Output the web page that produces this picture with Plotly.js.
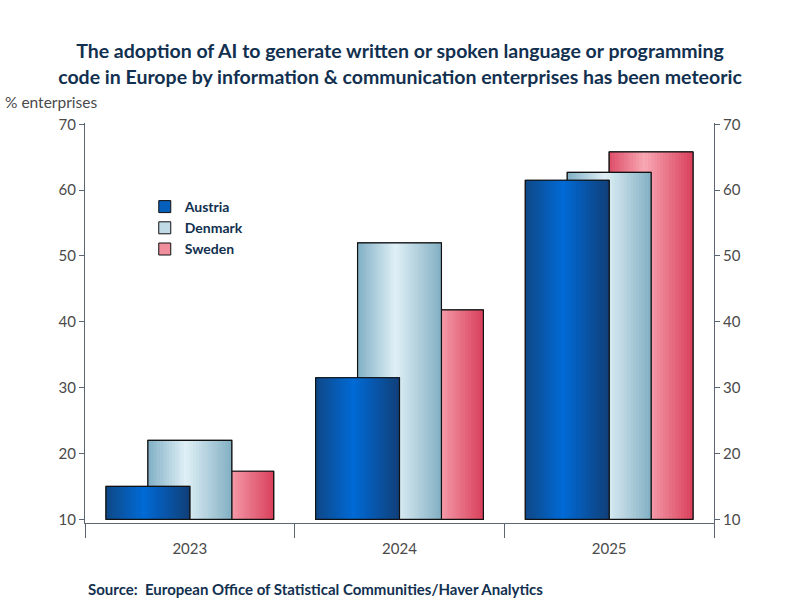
<!DOCTYPE html>
<html>
<head>
<meta charset="utf-8">
<script src="https://cdn.plot.ly/plotly-3.0.1.min.js"></script>
<style>
  html, body { margin: 0; padding: 0; background: #fff; }
  #chart { width: 800px; height: 600px; }
</style>
</head>
<body>
<div id="chart"></div>
<script>
	// Chart data
	const years = ['2023', '2024', '2025'];
	const austria = [15.0, 31.5, 61.5];
	const denmark = [22.0, 52.0, 62.7];
	const sweden = [17.3, 41.8, 65.8];
	const yTicks = [10, 20, 30, 40, 50, 60, 70];

	const BASE = 10;      // bars rise from the 10 line
	const SLICES = 28;    // vertical strips used to fake the horizontal gradient

	// Gradient stops, left edge -> right edge of each bar.
	const gradients = {
		Austria: [[0, '#0f4886'], [0.45, '#006ad6'], [1, '#113f78']],
		Denmark: [[0, '#80afc5'], [0.45, '#e0f0f6'], [1, '#82afc3']],
		Sweden: [[0, '#de4d68'], [0.42, '#f8a8b4'], [1, '#d93f5b']]
	};

	function hexToRgb(hex) {
		const n = parseInt(hex.slice(1), 16);
		return [(n >> 16) & 255, (n >> 8) & 255, n & 255];
	}

	function colorAt(stops, t) {
		for (let i = 1; i < stops.length; i++) {
			if (t <= stops[i][0]) {
				const a = stops[i - 1], b = stops[i];
				const f = (t - a[0]) / (b[0] - a[0]);
				const ca = hexToRgb(a[1]), cb = hexToRgb(b[1]);
				const c = ca.map((v, k) => Math.round(v + (cb[k] - v) * f));
				return `rgb(${c[0]},${c[1]},${c[2]})`;
			}
		}
		return stops[stops.length - 1][1];
	}

	// Build one series: a legend-carrying base bar, gradient strips, and an outline on top.
	function seriesTraces(name, values, offset, width) {
		const stops = gradients[name];
		const heights = values.map(v => v - BASE);
		const traces = [];

		traces.push({
			type: 'bar', name: name, x: years, y: heights, base: BASE,
			offset: offset, width: width,
			marker: { color: colorAt(stops, 0.3), line: { color: '#111', width: 1 } },
			hoverinfo: 'skip'
		});

		const step = width / SLICES;
		for (let i = 0; i < SLICES; i++) {
			const off = offset + i * step;
			const w = Math.min(step * 1.6, offset + width - off);
			traces.push({
				type: 'bar', x: years, y: heights, base: BASE,
				offset: off, width: w, showlegend: false, hoverinfo: 'skip',
				marker: { color: colorAt(stops, (i + 0.5) / SLICES), line: { width: 0 } }
			});
		}

		traces.push({
			type: 'bar', x: years, y: heights, base: BASE,
			offset: offset, width: width, showlegend: false,
			name: name,
			marker: { color: 'rgba(0,0,0,0)', line: { color: '#111', width: 1.2 } },
			hovertemplate: name + ' %{x}: %{customdata}%<extra></extra>',
			customdata: values
		});
		return traces;
	}

	// Sweden sits at the back, Austria in front.
	const data = [
		...seriesTraces('Sweden', sweden, 0, 0.4),
		...seriesTraces('Denmark', denmark, -0.2, 0.4),
		...seriesTraces('Austria', austria, -0.4, 0.4),
		// empty trace so the right-hand axis gets its own subplot
		{ type: 'scatter', x: [], y: [], yaxis: 'y2', showlegend: false, hoverinfo: 'skip' }
	];

	const axisColor = '#5c6670';
	const fontFamily = 'Lato, "Noto Sans", sans-serif';
	const tickFont = { family: fontFamily, size: 15, color: '#4a4a4a' };
	const yRange = [9.44, 70.2];

	const layout = {
		width: 800,
		height: 600,
		paper_bgcolor: '#fff',
		plot_bgcolor: '#fff',
		margin: { l: 85, r: 86, t: 123, b: 77 },
		barmode: 'overlay',
		title: {
			text: 'The adoption of AI to generate written or spoken language or programming<br>code in Europe by information &amp; communication enterprises has been meteoric',
			font: { family: fontFamily, size: 19.5, weight: 700, color: '#12304f' },
			x: 0.5, xanchor: 'center',
			y: 0.903, yanchor: 'top'
		},
		xaxis: {
			type: 'category',
			range: [-0.5, 2.5],
			showline: true, linecolor: axisColor, linewidth: 1,
			ticks: 'outside', tickson: 'boundaries', ticklen: 14, tickcolor: axisColor,
			ticklabelstandoff: 12,
			showgrid: false, zeroline: false,
			tickfont: tickFont
		},
		yaxis: {
			range: yRange,
			tickvals: yTicks,
			showline: true, linecolor: axisColor, linewidth: 1,
			ticks: 'outside', ticklen: 5, tickcolor: axisColor,
			showgrid: false, zeroline: false,
			tickfont: tickFont
		},
		yaxis2: {
			overlaying: 'y', side: 'right', anchor: 'x',
			range: yRange,
			tickvals: yTicks,
			showline: true, linecolor: axisColor, linewidth: 1,
			ticks: 'outside', ticklen: 5, tickcolor: axisColor,
			showgrid: false, zeroline: false,
			tickfont: tickFont
		},
		legend: {
			x: 0.095, y: 0.83, xanchor: 'left', yanchor: 'top',
			traceorder: 'reversed',
			bgcolor: 'rgba(0,0,0,0)',
			font: { family: fontFamily, size: 14, weight: 700, color: '#12304f' }
		},
		annotations: [
			{
				text: '% enterprises', xref: 'paper', yref: 'paper',
				x: -0.13, y: 1.053, xanchor: 'left', yanchor: 'middle', showarrow: false,
				font: { family: fontFamily, size: 15.5, color: '#4a4a4a' }
			},
			{
				text: 'Source:  European Office of Statistical Communities/Haver Analytics',
				xref: 'paper', yref: 'paper',
				x: 0.001, y: -0.165, xanchor: 'left', yanchor: 'middle', showarrow: false,
				font: { family: fontFamily, size: 15, weight: 700, color: '#12304f' }
			}
		]
	};

	Plotly.newPlot('chart', data, layout, { displayModeBar: false, staticPlot: true });
</script>
</body>
</html>
